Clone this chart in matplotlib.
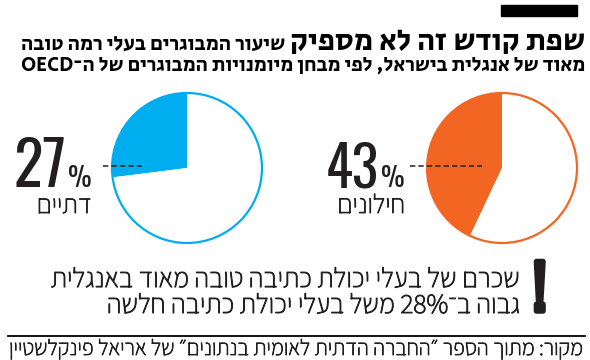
import re
import matplotlib
matplotlib.use("Agg")
import matplotlib.pyplot as plt
import matplotlib.patheffects as pe
from matplotlib.patches import Circle, Rectangle

# data
groups = ["דתיים", "חילונים"]
shares = [27, 43]
colors = ["#00AEEF", "#F26522"]

title_big = "שפת קודש זה לא מספיק"
title_small = "שיעור המבוגרים בעלי רמה טובה"
title_line2 = "מאוד של אנגלית בישראל, לפי מבחן מיומנויות המבוגרים של ה־OECD"
note_lines = ["שכרם של בעלי יכולת כתיבה טובה מאוד באנגלית",
              "גבוה ב־28% משל בעלי יכולת כתיבה חלשה"]
source = "מקור: מתוך הספר ״החברה הדתית לאומית בנתונים״ של אריאל פינקלשטיין"

HEAD = ["Secular One", "Open Sans", "DejaVu Sans"]
BODY = ["Assistant", "Open Sans", "DejaVu Sans"]
NUM = ["Oswald", "DejaVu Sans"]
INK = "#231f20"


def rtl(s):
    # matplotlib has no bidi: flip the string, keep latin/number runs in order
    s = s[::-1]
    return re.sub(r"[A-Za-z0-9%]+", lambda m: m.group(0)[::-1], s)


def thick(w):
    return [pe.withStroke(linewidth=w, foreground=INK)]


H = 360
fig = plt.figure(figsize=(5.9, 3.6), dpi=100)
ax = fig.add_axes([0, 0, 1, 1])
renderer = fig.canvas.get_renderer()


def txt(x, y, s, size, width=None, **kw):
    kw.setdefault("ha", "right")
    kw.setdefault("va", "baseline")
    kw.setdefault("family", BODY)
    kw.setdefault("color", INK)
    t = ax.text(x, H - y, s, fontsize=size, **kw)
    if width:
        w = t.get_window_extent(renderer).width
        t.set_fontsize(size * width / w)
    return t


# header
ax.add_patch(Rectangle((501, H - 16), 76, 11, color="black"))
txt(585, 50, rtl(title_big), 25, width=295, family=HEAD, color="black")
txt(285, 50, rtl(title_small), 16, width=265, family=HEAD, color="black")
txt(585, 70, rtl(title_line2), 14, width=565, family=HEAD, color="black")

# pies
centers = [(187, 168), (502, 168)]
label_x = [92, 405]
dash = [(103, 143), (410, 482)]
for i in range(2):
    cx, cy = centers[i]
    ax.pie([shares[i], 100 - shares[i]], colors=[colors[i], "white"],
           startangle=90, counterclock=True, center=(cx, H - cy), radius=75,
           wedgeprops=dict(linewidth=0))
    ax.add_patch(Circle((cx, H - cy), 75, fill=False, edgecolor=colors[i], lw=1.6))
    ax.plot(dash[i], [H - 166, H - 166], color="#222222", lw=1.1, ls=(0, (3.5, 2)))
    pct = txt(label_x[i], 187, "%", 19, family=NUM, weight="normal")
    w = pct.get_window_extent(renderer).width
    txt(label_x[i] - w - 2, 187, str(shares[i]), 38, width=53, family=NUM,
        weight="bold")
    txt(label_x[i], 213, rtl(groups[i]), 17, width=55 + 13 * i,
        path_effects=thick(0.6))

# note
txt(546, 311, "!", 44, family=NUM, weight="bold", path_effects=thick(4))
note = "\n".join(rtl(s) for s in note_lines)
txt(520, 313, note, 20, width=470, multialignment="right", linespacing=0.95,
    path_effects=thick(0.7))

# source
ax.plot([8, 585], [H - 336, H - 336], color="black", lw=1.3)
txt(583, 355, rtl(source), 14, width=573, path_effects=thick(0.6))

ax.set_xlim(0, 590)
ax.set_ylim(0, H)
ax.set_aspect("auto")
ax.axis("off")
fig.savefig("out.png", dpi=100, facecolor="white")
